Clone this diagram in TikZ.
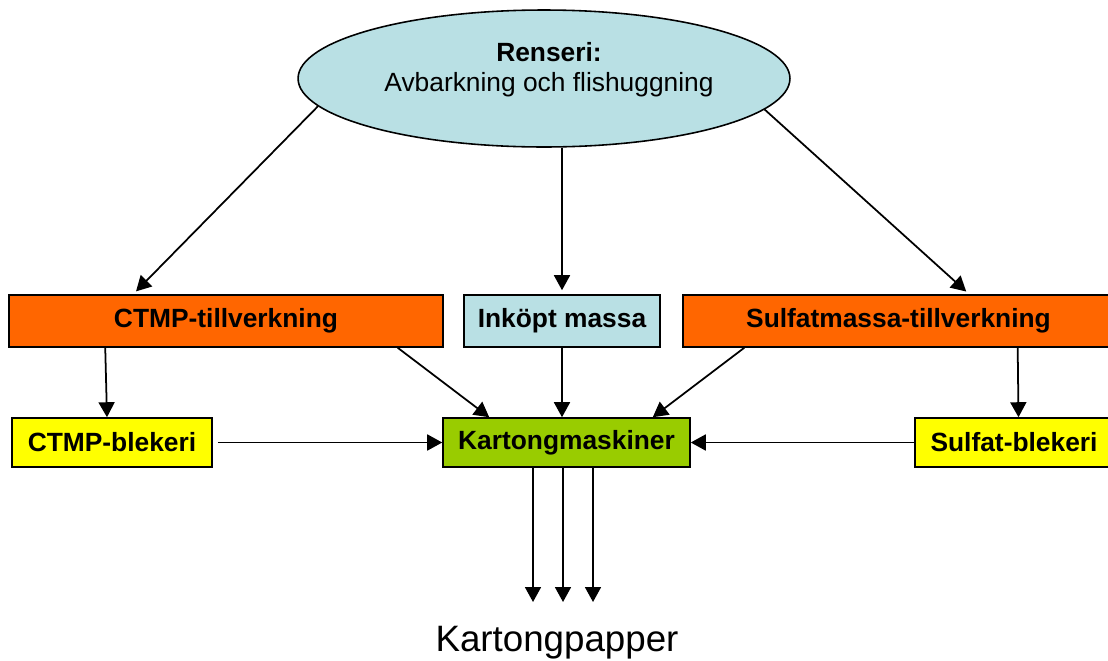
\documentclass[tikz,border=0pt]{standalone}
\usepackage{fontspec}
\setmainfont{Liberation Sans}
\usetikzlibrary{shapes.geometric,arrows.meta}

\definecolor{renblue}{RGB}{185,224,228}
\definecolor{mixorange}{RGB}{255,102,0}
\definecolor{blekyellow}{RGB}{255,255,0}
\definecolor{kartgreen}{RGB}{153,204,0}

\begin{document}
\begin{tikzpicture}[x=0.02cm, y=-0.02cm,
	box/.style={draw, line width=0.9pt, inner sep=0pt, font=\bfseries\fontsize{15}{18}\selectfont},
	tall/.style={box, minimum height=1.04cm},
	low/.style={box, minimum height=0.98cm}]
	\useasboundingbox (0,0) rectangle (1108,660);
	
	\node (ren) at (544, 78.5) [ellipse, draw, line width=0.9pt, fill=renblue, inner sep=0pt, minimum width=9.84cm, minimum height=2.74cm] {};
	\node (rentext) at (549, 70) [align=center, inner sep=0pt, font=\fontsize{15}{17.1}\selectfont] {\textbf{Renseri:}\\Avbarkning och flishuggning};
	\node (ctmp) at (226, 321) [tall, fill=mixorange, minimum width=8.68cm] {CTMP-tillverkning};
	\node (inkopt) at (562, 321) [tall, fill=renblue, minimum width=3.92cm] {Inköpt massa};
	\node (sulfat) at (898.5, 321) [tall, fill=mixorange, minimum width=8.62cm] {Sulfatmassa-tillverkning};
	\node (ctmpblek) at (112, 442.5) [low, fill=blekyellow, minimum width=4cm] {CTMP-blekeri};
	\node (kart) at (566.5, 442.5) [low, fill=kartgreen, minimum width=4.94cm] {Kartongmaskiner};
	\node (sulfblek) at (1014, 442.5) [low, fill=blekyellow, minimum width=3.96cm] {Sulfat-blekeri};
	\node (papper) at (557, 651) [anchor=base, inner sep=0pt, font=\fontsize{20.9}{24}\selectfont] {Kartongpapper};
	
	\coordinate (out1) at (533, 602);
	\coordinate (out2) at (563, 602);
	\coordinate (out3) at (593, 602);
	
	\path[every edge/.append style={line width=1pt, -{Triangle[length=0.3cm, width=0.32cm]}}]
	(ren.187.6) edge[shorten >=0.08cm] ([xshift=2.5cm]ctmp.north west)
	(ren.south -| inkopt) edge[shorten >=0.08cm] (inkopt)
	(ren.352.4) edge[shorten >=0.08cm] ([xshift=5.74cm]sulfat.north west)
	
	([xshift=1.94cm]ctmp.south west) edge ([xshift=-0.1cm]ctmpblek.north)
	([xshift=-0.92cm]ctmp.south east) edge ([xshift=0.94cm]kart.north west)
	(inkopt.south) edge (inkopt.south |- kart.north)
	([xshift=1.24cm]sulfat.south west) edge ([xshift=-0.76cm]kart.north east)
	([xshift=6.71cm]sulfat.south west) edge ([xshift=0.09cm]sulfblek.north)
	
	(ctmpblek) edge[shorten <=0.1cm] (kart)
	(sulfblek) edge (kart)
	
	(kart.south -| out1) edge (out1)
	(kart.south -| out2) edge (out2)
	(kart.south -| out3) edge (out3)
	;
\end{tikzpicture}
\end{document}
